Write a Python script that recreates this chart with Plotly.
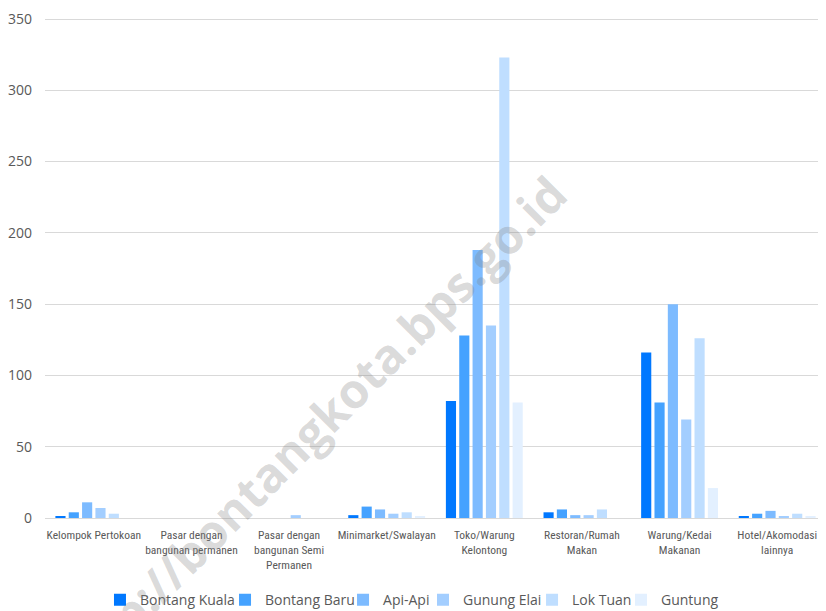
import plotly.graph_objects as go

categories = [
    "Kelompok Pertokoan",
    "Pasar dengan<br>bangunan permanen",
    "Pasar dengan<br>bangunan Semi<br>Permanen",
    "Minimarket/Swalayan",
    "Toko/Warung<br>Kelontong",
    "Restoran/Rumah<br>Makan",
    "Warung/Kedai<br>Makanan",
    "Hotel/Akomodasi<br>lainnya",
]

bontang_kuala = [1, 0, 0, 2, 82, 4, 116, 1]
bontang_baru = [4, 0, 0, 8, 128, 6, 81, 3]
api_api = [11, 0, 0, 6, 188, 2, 150, 5]
gunung_elai = [7, 0, 2, 3, 135, 2, 69, 1]
lok_tuan = [3, 0, 0, 4, 323, 6, 126, 3]
guntung = [0, 0, 0, 1, 81, 0, 21, 1]

series_names = ["Bontang Kuala", "Bontang Baru", "Api-Api", "Gunung Elai", "Lok Tuan", "Guntung"]
series_values = [bontang_kuala, bontang_baru, api_api, gunung_elai, lok_tuan, guntung]
colors = ["#0078FF", "#45A2FF", "#7DBBFF", "#A3CEFF", "#BFDEFF", "#E3F0FF"]
y_ticks = [0, 50, 100, 150, 200, 250, 300, 350]

# horizontal anchor of each legend entry (paper fraction)
legend_x = [0.0704, 0.2305, 0.3816, 0.4840, 0.6236, 0.7375]
legend_ids = ["legend", "legend2", "legend3", "legend4", "legend5", "legend6"]

fig = go.Figure()
for name, vals, col, lid in zip(series_names, series_values, colors, legend_ids):
    fig.add_trace(go.Bar(
        name=name, x=categories, y=vals, legend=lid,
        marker=dict(color=col, line=dict(width=0)),
    ))

fig.add_annotation(
    text="<b>http://bontangkota.bps.go.id</b>",
    xref="paper", yref="paper",
    x=0.342, y=0.176, xanchor="center", yanchor="middle",
    showarrow=False, textangle=-45,
    font=dict(family="Open Sans, sans-serif", size=48, color="rgba(128,128,128,0.3)"),
)

legend_style = dict(
    orientation="h", xanchor="left", y=-0.164, yanchor="middle",
    font=dict(family="Open Sans, sans-serif", size=14, color="#595959"),
    itemwidth=30, bgcolor="rgba(0,0,0,0)",
)
layout_legends = {lid: dict(x=lx, **legend_style) for lid, lx in zip(legend_ids, legend_x)}

fig.update_layout(
    width=818, height=603,
    margin=dict(l=37, r=0, t=9, b=93, autoexpand=False),
    paper_bgcolor="white", plot_bgcolor="white",
    barmode="group", bargap=0.18, bargroupgap=0.24,
    showlegend=True,
    xaxis=dict(
        tickfont=dict(family="Liberation Sans Narrow, Arial Narrow, Roboto Condensed, Liberation Sans, sans-serif", size=11.5, color="#595959"),
        showgrid=False, showline=True, linecolor="#d9d9d9", linewidth=1,
        ticks="", tickangle=0, automargin=False, ticklabelstandoff=6,
    ),
    yaxis=dict(
        range=[0, 351.4], tickvals=y_ticks,
        tickfont=dict(family="Open Sans, sans-serif", size=14, color="#595959"),
        showgrid=True, gridcolor="#d9d9d9", gridwidth=1,
        zeroline=False, showline=False, ticks="", ticklabelstandoff=12,
        automargin=False, ticklabeloverflow="allow",
    ),
    **layout_legends,
)

fig.write_html("out.html")
